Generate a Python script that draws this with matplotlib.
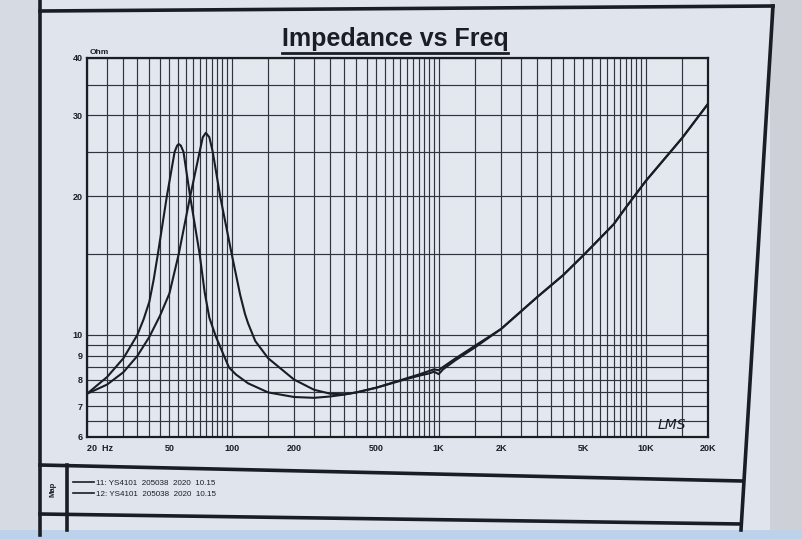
import matplotlib
matplotlib.use('Agg')
import matplotlib.pyplot as plt
from matplotlib.lines import Line2D
from matplotlib.patches import Rectangle
from matplotlib.ticker import FixedLocator, NullFormatter

# ---------------- data ----------------
freq_a = [20, 25, 30, 35, 37.5, 40, 42, 44, 48.6, 53, 54.5, 55.5, 56.8, 58.5, 63, 70, 74, 78, 84, 90, 97,
          105, 120, 150, 200, 250, 300, 350, 400, 500, 700, 800, 900, 950, 1000, 1050, 1200,
          1500, 2000, 3000, 4000, 5000, 6000, 7000, 8000, 10000, 12000, 15000, 20000]
ohm_a = [7.45, 8.1, 8.9, 10.0, 10.8, 11.8, 13.2, 15.0, 20.0, 25.0, 25.8, 26.0, 25.8, 25.0, 20.0, 15.0, 12.4, 10.9, 9.9, 9.2, 8.5,
         8.2, 7.85, 7.5, 7.33, 7.3, 7.35, 7.42, 7.5, 7.68, 8.02, 8.15, 8.25, 8.32, 8.22, 8.42, 8.8,
         9.4, 10.3, 12.1, 13.5, 14.9, 16.2, 17.4, 18.9, 21.6, 23.8, 26.8, 31.8]

freq_b = [20, 25, 30, 35, 40, 45, 50, 55.5, 63, 70, 72.5, 75, 78, 81, 88, 100, 110, 116, 120, 130,
          150, 200, 250, 300, 350, 400, 500, 700, 800, 900, 950, 1000, 1050, 1200,
          1500, 2000, 3000, 4000, 5000, 6000, 7000, 8000, 10000, 12000, 15000, 20000]
ohm_b = [7.45, 7.8, 8.3, 9.0, 9.9, 11.0, 12.3, 15.0, 20.0, 25.0, 26.9, 27.5, 26.9, 25.0, 20.0, 15.0, 12.2, 11.1, 10.6, 9.7,
         8.9, 8.0, 7.6, 7.45, 7.43, 7.5, 7.68, 8.05, 8.2, 8.35, 8.42, 8.38, 8.52, 8.88,
         9.48, 10.3, 12.1, 13.5, 14.9, 16.2, 17.4, 18.9, 21.6, 23.8, 26.8, 31.8]

x_tick_vals = [20, 50, 100, 200, 500, 1000, 2000, 5000, 10000, 20000]
x_tick_labels = ['20  Hz', '50', '100', '200', '500', '1K', '2K', '5K', '10K', '20K']
y_tick_vals = [6, 7, 8, 9, 10, 20, 30, 40]
y_tick_labels = ['6', '7', '8', '9', '10', '20', '30', '40']

legend_labels = ['11: YS4101  205038  2020  10.15', '12: YS4101  205038  2020  10.15']
title = 'Impedance vs Freq'

# grid line positions (chart paper)
grid_x = (list(range(20, 100, 5)) + list(range(100, 1000, 50)) +
          list(range(1000, 10000, 500)) + [10000, 15000, 20000])
grid_y = [6 + 0.5 * i for i in range(8)] + [10, 15, 20, 25, 30, 35, 40]

# ---------------- figure ----------------
W, H = 802, 539
paper = '#e0e4ec'
ink = '#1a1d24'
gridc = '#30343d'

def fx(px):
    return px / W

def fy(py):
    return 1 - py / H

fig = plt.figure(figsize=(W / 100, H / 100), dpi=100)
fig.patch.set_facecolor(paper)

# background regions of the photo
fig.add_artist(Rectangle((0, 0), fx(40), 1, transform=fig.transFigure,
                         facecolor='#d6dae2', edgecolor='none', zorder=0))
fig.add_artist(Rectangle((fx(770), 0), 1 - fx(770), 1, transform=fig.transFigure,
                         facecolor='#cdd0d7', edgecolor='none', zorder=0))
fig.add_artist(Rectangle((0, 0), 1, fy(530), transform=fig.transFigure,
                         facecolor='#bcd2ea', edgecolor='none', zorder=0))

ax = fig.add_axes([fx(87), fy(437), fx(708) - fx(87), fy(58) - fy(437)])
ax.set_facecolor('#e3e7ee')
ax.set_xscale('log')
ax.set_yscale('log')
ax.set_xlim(20, 20000)
ax.set_ylim(6, 40)

ax.xaxis.set_major_locator(FixedLocator(x_tick_vals))
ax.xaxis.set_minor_locator(FixedLocator(grid_x))
ax.xaxis.set_minor_formatter(NullFormatter())
ax.set_xticklabels(x_tick_labels)
ax.yaxis.set_major_locator(FixedLocator(y_tick_vals))
ax.yaxis.set_minor_locator(FixedLocator(grid_y))
ax.yaxis.set_minor_formatter(NullFormatter())
ax.set_yticklabels(y_tick_labels)

ax.grid(which='both', color=gridc, linewidth=0.85)
ax.set_axisbelow(True)
ax.tick_params(which='both', length=0)
ax.tick_params(axis='x', pad=5, labelsize=6.5, labelcolor=ink)
ax.tick_params(axis='y', pad=3, labelsize=6.5, labelcolor=ink)
for lab in ax.get_xticklabels() + ax.get_yticklabels():
    lab.set_fontweight('bold')
    lab.set_family('Liberation Sans')
ax.get_xticklabels()[0].set_horizontalalignment('left')

for s in ax.spines.values():
    s.set_color(ink)
    s.set_linewidth(1.6)

ax.plot(freq_a, ohm_a, color=ink, linewidth=1.5, label=legend_labels[0], zorder=3)
ax.plot(freq_b, ohm_b, color=ink, linewidth=1.5, label=legend_labels[1], zorder=3)

ax.text(0.005, 1.004, 'Ohm', transform=ax.transAxes, ha='left', va='bottom',
        fontsize=6, fontweight='bold', family='Liberation Sans', color=ink)
ax.text(0.942, 0.012, 'LMS', transform=ax.transAxes, ha='center', va='bottom',
        fontsize=10, fontstyle='italic', family='DejaVu Sans', fontweight='light', color=ink)

# title with underline
t = fig.text(fx(395), fy(39), title, ha='center', va='center', fontsize=18,
             fontweight='bold', family='Liberation Sans', color=ink)
fig.canvas.draw()
bb = t.get_window_extent(fig.canvas.get_renderer()).transformed(fig.transFigure.inverted())
fig.add_artist(Line2D([bb.x0, bb.x1], [bb.y0 - 0.004, bb.y0 - 0.004], transform=fig.transFigure,
                      color=ink, linewidth=2.0))

# page frame
frame_kw = dict(transform=fig.transFigure, color=ink, linewidth=2.6, zorder=5)
fig.add_artist(Line2D([fx(40), fx(40)], [fy(0), fy(535)], **frame_kw))
fig.add_artist(Line2D([fx(40), fx(773)], [fy(11), fy(6)], **frame_kw))
fig.add_artist(Line2D([fx(773), fx(741)], [fy(6), fy(530)], **frame_kw))
fig.add_artist(Line2D([fx(40), fx(742)], [fy(465), fy(481)], **frame_kw))
fig.add_artist(Line2D([fx(40), fx(741)], [fy(514), fy(524)], **frame_kw))
fig.add_artist(Line2D([fx(67), fx(67)], [fy(465), fy(530)], **frame_kw))

# legend block
fig.text(fx(53), fy(489), 'Map', rotation=90, ha='center', va='center', fontsize=5.5,
         fontweight='bold', family='Liberation Sans', color=ink)
handles, labels = ax.get_legend_handles_labels()
leg = fig.legend(handles, labels, loc='upper left', bbox_to_anchor=(fx(67), fy(474)),
                 frameon=False, handlelength=2.6, handletextpad=0.35,
                 labelspacing=0.35, borderpad=0.2, prop={'family': 'Liberation Sans', 'size': 5.8})
for txt in leg.get_texts():
    txt.set_color(ink)
for ln in leg.get_lines():
    ln.set_linewidth(1.2)

fig.savefig('out.png', dpi=100, facecolor=fig.get_facecolor())
